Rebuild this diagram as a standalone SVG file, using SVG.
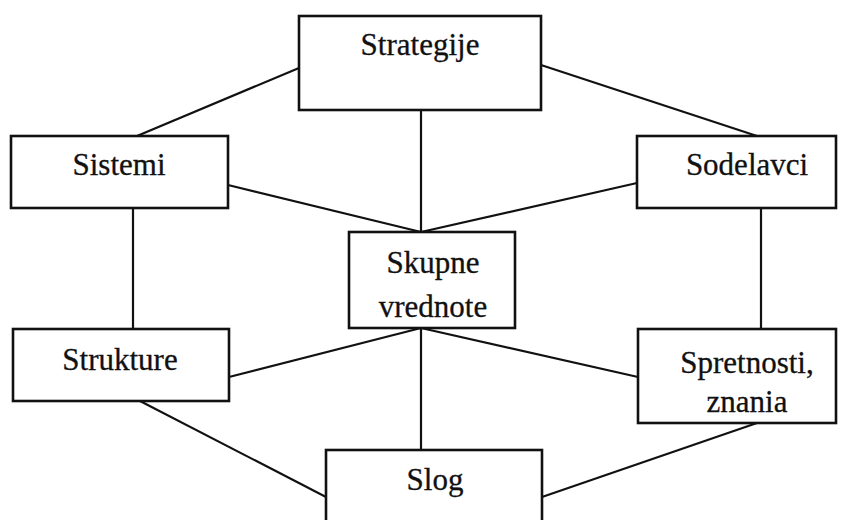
<svg xmlns="http://www.w3.org/2000/svg" width="847" height="520" viewBox="0 0 847 520">
  <style>
    .box { fill: #fff; stroke: #111; stroke-width: 2.6; }
    .link { stroke: #111; stroke-width: 2.2; fill: none; }
    .label { font-family: "Liberation Serif", "Times New Roman", serif; font-size: 31px; fill: #111; text-anchor: middle; stroke: #111; stroke-width: 0.3; }
  </style>
  <rect width="847" height="520" fill="#fff"/>
  <g id="connectors">
    <line class="link" x1="137" y1="136" x2="299" y2="68"/>
    <line class="link" x1="541" y1="65" x2="757" y2="136"/>
    <line class="link" x1="421" y1="110" x2="421" y2="232"/>
    <line class="link" x1="228" y1="185" x2="421" y2="232"/>
    <line class="link" x1="637" y1="183" x2="421" y2="232"/>
    <line class="link" x1="133" y1="208" x2="133" y2="329"/>
    <line class="link" x1="761" y1="208" x2="761" y2="329"/>
    <line class="link" x1="229" y1="377" x2="421" y2="328"/>
    <line class="link" x1="638" y1="377" x2="421" y2="328"/>
    <line class="link" x1="421" y1="328" x2="421" y2="450"/>
    <line class="link" x1="140" y1="401" x2="326" y2="497"/>
    <line class="link" x1="757" y1="423" x2="542" y2="497"/>
  </g>
  <g id="strategije">
    <rect class="box" x="299" y="16" width="242" height="94"/>
    <text class="label" x="420" y="55">Strategije</text>
  </g>
  <g id="sistemi">
    <rect class="box" x="11" y="136" width="217" height="72"/>
    <text class="label" x="119" y="175">Sistemi</text>
  </g>
  <g id="sodelavci">
    <rect class="box" x="637" y="136" width="199" height="72"/>
    <text class="label" x="747" y="175">Sodelavci</text>
  </g>
  <g id="skupne-vrednote">
    <rect class="box" x="349" y="232" width="166" height="96"/>
    <text class="label" x="433" y="273">Skupne</text>
    <text class="label" x="433" y="317">vrednote</text>
  </g>
  <g id="strukture">
    <rect class="box" x="13" y="329" width="216" height="72"/>
    <text class="label" x="120" y="370">Strukture</text>
  </g>
  <g id="spretnosti-znanja">
    <rect class="box" x="638" y="329" width="198" height="94"/>
    <text class="label" x="747" y="373">Spretnosti,</text>
    <text class="label" x="747" y="412">znania</text>
  </g>
  <g id="slog">
    <rect class="box" x="326" y="450" width="216" height="80"/>
    <text class="label" x="435" y="490">Slog</text>
  </g>
</svg>
